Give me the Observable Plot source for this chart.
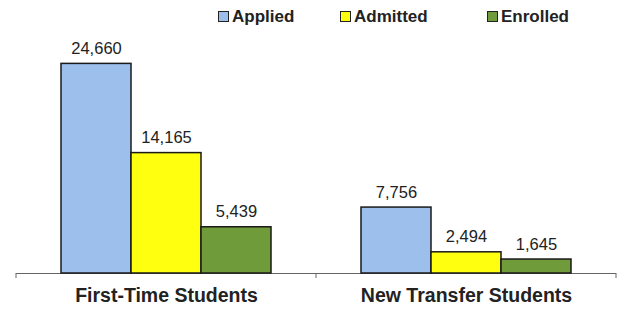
<!DOCTYPE html>
<html><head><meta charset="utf-8">
<script src="https://cdn.jsdelivr.net/npm/d3@7"></script>
<script src="https://cdn.jsdelivr.net/npm/@observablehq/plot@0.6"></script>
<style>
body{margin:0;background:#fff;font-family:"Liberation Sans",Arial,sans-serif;}
#legend{position:relative;height:32px;width:626px;}
.item{position:absolute;top:8px;display:flex;align-items:center;font-weight:bold;font-size:17px;color:#222;line-height:17px;}
.sw{width:9px;height:9px;border:1.5px solid #222;margin-right:3px;}
</style></head><body>
<div id="legend"></div>
<div id="chart"></div>
<script>
const categories = ["First-Time Students", "New Transfer Students"];
const series = ["Applied", "Admitted", "Enrolled"];
const applied = [24660, 7756];
const admitted = [14165, 2494];
const enrolled = [5439, 1645];
const colors = ["#9cbfec", "#ffff10", "#6f9b3a"];
const legendLeft = [218, 340, 487];

const values = [applied, admitted, enrolled];
const rows = [];
categories.forEach((c, i) => series.forEach((s, j) => rows.push({category: c, series: s, value: values[j][i]})));

const legend = document.getElementById("legend");
series.forEach((s, j) => {
  const it = document.createElement("div");
  it.className = "item";
  it.style.left = legendLeft[j] + "px";
  const sw = document.createElement("span");
  sw.className = "sw";
  sw.style.background = colors[j];
  it.appendChild(sw);
  it.appendChild(document.createTextNode(s));
  legend.appendChild(it);
});

const fmt = d3.format(",");
const plot = Plot.plot({
  width: 626, height: 284,
  marginLeft: 15, marginRight: 10, marginTop: 20, marginBottom: 43,
  fx: {domain: categories, padding: 0, label: null},
  x: {domain: series, paddingInner: 0, paddingOuter: 0.63, axis: null},
  y: {domain: [0, 26000], axis: null},
  color: {domain: series, range: colors},
  style: {fontFamily: "Liberation Sans, Arial, sans-serif", fontSize: "15px", color: "#222", background: "#fff"},
  marks: [
    Plot.ruleY([0], {stroke: "#666", strokeWidth: 1}),
    Plot.barY(rows, {fx: "category", x: "series", y: "value", fill: "series", stroke: "#1a1a1a", strokeWidth: 1.5}),
    Plot.text(rows, {fx: "category", x: "series", y: "value", text: d => fmt(d.value), dy: -10, lineAnchor: "bottom", fontSize: 16.5, fill: "#222"}),
    Plot.axisFx({anchor: "bottom", tickSize: 0, tickPadding: 15, fontSize: 19.5, fontWeight: "bold", label: null, fill: "#222"})
  ]
});
document.getElementById("chart").appendChild(plot);

const fx = plot.scale("fx"), y = plot.scale("y");
const y0 = y.apply(0);
const edges = [];
categories.forEach(c => { edges.push(fx.apply(c)); });
edges.push(fx.apply(categories[categories.length - 1]) + fx.bandwidth);
d3.select(plot).append("g").selectAll("line").data(edges).join("line")
  .attr("x1", d => d).attr("x2", d => d).attr("y1", y0).attr("y2", y0 + 5)
  .attr("stroke", "#666");
</script>
</body></html>
